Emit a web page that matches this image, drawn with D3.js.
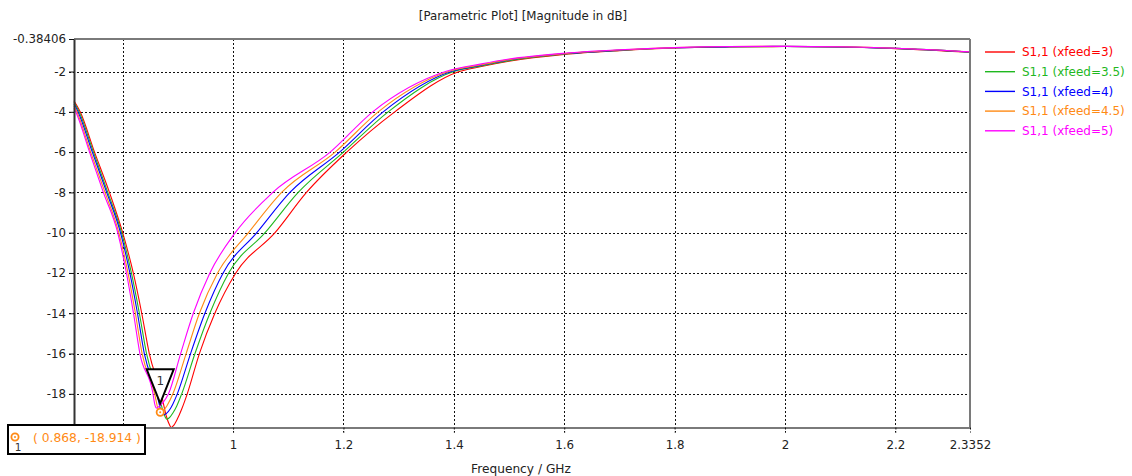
<!DOCTYPE html>
<html>
<head>
<meta charset="utf-8">
<script src="https://cdn.jsdelivr.net/npm/d3@7"></script>
<style>
  html, body { margin: 0; padding: 0; background: #ffffff; }
  svg { display: block; }
  text { font-family: "DejaVu Sans", Verdana, sans-serif; }
</style>
</head>
<body>
<svg id="chart" width="1132" height="476"></svg>
<script>
// S11 magnitude (dB) versus frequency (GHz) for a feed-position sweep
const seriesNames = ["S1,1 (xfeed=3)", "S1,1 (xfeed=3.5)", "S1,1 (xfeed=4)", "S1,1 (xfeed=4.5)", "S1,1 (xfeed=5)"];
const seriesColors = ["#ff0000", "#1fb81f", "#0000ff", "#ff8a14", "#ff00ff"];

// [frequency GHz, dB]
const xfeed3 = [[0.7118,-3.45],[0.723,-4.0],[0.749,-6.0],[0.776,-8.0],[0.800,-10.0],[0.8192,-12.0],[0.8345,-14.0],[0.8482,-16.0],[0.8700,-18.0],[0.879,-19.1],[0.885,-19.55],[0.888,-19.67],[0.892,-19.58],[0.899,-19.25],[0.907,-18.75],[0.917,-18.0],[0.939,-16.0],[0.967,-14.0],[1.005,-12.0],[1.076,-10.0],[1.133,-8.0],[1.206,-6.0],[1.293,-4.0],[1.410,-2.0],[1.45,-1.75],[1.5,-1.49],[1.6,-1.15],[1.7,-0.96],[1.8,-0.83],[1.9,-0.78],[2.0,-0.76],[2.1,-0.78],[2.2,-0.86],[2.3352,-1.04]];
const xfeed3p5 = [[0.7118,-3.52],[0.721,-4.0],[0.747,-6.0],[0.773,-8.0],[0.798,-10.0],[0.8158,-12.0],[0.8302,-14.0],[0.8432,-16.0],[0.8650,-18.0],[0.873,-18.85],[0.877,-19.15],[0.880,-19.26],[0.884,-19.2],[0.891,-18.95],[0.898,-18.6],[0.907,-18.0],[0.931,-16.0],[0.958,-14.0],[0.992,-12.0],[1.058,-10.0],[1.118,-8.0],[1.200,-6.0],[1.281,-4.0],[1.400,-2.0],[1.45,-1.72],[1.5,-1.46],[1.6,-1.13],[1.7,-0.95],[1.8,-0.82],[1.9,-0.77],[2.0,-0.76],[2.1,-0.78],[2.2,-0.85],[2.3352,-1.03]];
const xfeed4 = [[0.7118,-3.6],[0.719,-4.0],[0.745,-6.0],[0.771,-8.0],[0.796,-10.0],[0.8130,-12.0],[0.8268,-14.0],[0.8392,-16.0],[0.8620,-18.0],[0.869,-18.8],[0.874,-19.04],[0.879,-18.98],[0.886,-18.75],[0.891,-18.5],[0.899,-18.0],[0.923,-16.0],[0.949,-14.0],[0.982,-12.0],[1.043,-10.0],[1.103,-8.0],[1.193,-6.0],[1.272,-4.0],[1.395,-2.0],[1.45,-1.69],[1.5,-1.43],[1.6,-1.12],[1.7,-0.94],[1.8,-0.82],[1.9,-0.77],[2.0,-0.75],[2.1,-0.78],[2.2,-0.85],[2.3352,-1.03]];
const xfeed4p5 = [[0.7118,-3.7],[0.717,-4.0],[0.742,-6.0],[0.768,-8.0],[0.793,-10.0],[0.8096,-12.0],[0.8230,-14.0],[0.8352,-16.0],[0.8580,-18.0],[0.864,-18.75],[0.868,-18.914],[0.873,-18.85],[0.880,-18.6],[0.891,-18.0],[0.915,-16.0],[0.939,-14.0],[0.972,-12.0],[1.028,-10.0],[1.088,-8.0],[1.185,-6.0],[1.263,-4.0],[1.390,-2.0],[1.45,-1.66],[1.5,-1.41],[1.6,-1.11],[1.7,-0.93],[1.8,-0.81],[1.9,-0.76],[2.0,-0.75],[2.1,-0.77],[2.2,-0.84],[2.3352,-1.02]];
const xfeed5 = [[0.7118,-3.82],[0.715,-4.0],[0.740,-6.0],[0.765,-8.0],[0.791,-10.0],[0.8068,-12.0],[0.8196,-14.0],[0.8312,-16.0],[0.8550,-18.0],[0.858,-18.5],[0.861,-18.71],[0.866,-18.62],[0.874,-18.4],[0.883,-18.0],[0.905,-16.0],[0.928,-14.0],[0.958,-12.0],[1.004,-10.0],[1.072,-8.0],[1.176,-6.0],[1.253,-4.0],[1.385,-2.0],[1.45,-1.62],[1.5,-1.38],[1.6,-1.09],[1.7,-0.92],[1.8,-0.81],[1.9,-0.76],[2.0,-0.75],[2.1,-0.77],[2.2,-0.84],[2.3352,-1.02]];
const seriesData = [xfeed3, xfeed3p5, xfeed4, xfeed4p5, xfeed5];

const xDomain = [0.7118, 2.3352];
const yDomain = [-19.671, -0.38406];
// the two leftmost x ticks and the lowest y tick sit under the marker readout box
const xTicks = [0.7118, 0.8, 1, 1.2, 1.4, 1.6, 1.8, 2, 2.2, 2.3352];
const xTickLabels = ["", "", "1", "1.2", "1.4", "1.6", "1.8", "2", "2.2", "2.3352"];
const yTicks = [-0.38406, -2, -4, -6, -8, -10, -12, -14, -16, -18, -19.671];
const yTickLabels = ["-0.38406", "-2", "-4", "-6", "-8", "-10", "-12", "-14", "-16", "-18", ""];
const xGrid = [0.8, 1, 1.2, 1.4, 1.6, 1.8, 2, 2.2];
const yGrid = [-2, -4, -6, -8, -10, -12, -14, -16, -18];

// marker m1 on the xfeed=4.5 trace
const markerFreq = 0.868;
const markerDb = -18.914;
const markerLabel = "1";

const svg = d3.select("#chart");
const plotLeft = 74, plotRight = 970, plotTop = 39, plotBottom = 427.5;
const labelFont = "'DejaVu Sans', Verdana, sans-serif";

const x = d3.scaleLinear().domain(xDomain).range([plotLeft, plotRight]);
const y = d3.scaleLinear().domain(yDomain).range([plotBottom, plotTop]);

// title
svg.append("text")
  .attr("x", 523).attr("y", 20)
  .attr("text-anchor", "middle")
  .attr("font-size", 11.8)
  .attr("fill", "#222")
  .text("[Parametric Plot] [Magnitude in dB]");

// dashed grid, extended a few pixels outside the frame as ticks
const grid = svg.append("g").attr("stroke", "#111").attr("stroke-width", 1).attr("stroke-dasharray", "2,2");
grid.selectAll("line.gx").data(xGrid).join("line")
  .attr("x1", d => Math.round(x(d)) + 0.5).attr("x2", d => Math.round(x(d)) + 0.5)
  .attr("y1", plotTop).attr("y2", plotBottom + 5);
grid.selectAll("line.gy").data(yGrid).join("line")
  .attr("y1", d => Math.round(y(d)) + 0.5).attr("y2", d => Math.round(y(d)) + 0.5)
  .attr("x1", plotLeft - 5).attr("x2", plotRight);

// traces
const line = d3.line().x(d => x(d[0])).y(d => y(d[1])).curve(d3.curveMonotoneX);
svg.append("g").selectAll("path").data(seriesData).join("path")
  .attr("d", line)
  .attr("fill", "none")
  .attr("stroke", (d, i) => seriesColors[i])
  .attr("stroke-width", 1.1);

// frame
svg.append("line").attr("x1", plotLeft).attr("x2", plotRight).attr("y1", plotTop).attr("y2", plotTop).attr("stroke", "#7a7a7a").attr("stroke-width", 2);
svg.append("line").attr("x1", plotRight).attr("x2", plotRight).attr("y1", plotTop).attr("y2", plotBottom).attr("stroke", "#7a7a7a").attr("stroke-width", 2);

// axes
const xAxis = d3.axisBottom(x).tickValues(xTicks).tickFormat((d, i) => xTickLabels[i]).tickSize(5).tickSizeOuter(0);
const gx = svg.append("g").attr("transform", `translate(0,${plotBottom})`).call(xAxis);
gx.select(".domain").attr("stroke", "#7a7a7a").attr("stroke-width", 2);
gx.selectAll(".tick line").attr("stroke", "#111").attr("stroke-dasharray", "2,2");
gx.selectAll(".tick text").attr("font-size", 11.8).attr("fill", "#222").attr("y", 13.5)
  .attr("font-family", labelFont);

const yAxis = d3.axisLeft(y).tickValues(yTicks).tickFormat((d, i) => yTickLabels[i]).tickSize(5).tickSizeOuter(0);
const gy = svg.append("g").attr("transform", `translate(${plotLeft},0)`).call(yAxis);
gy.select(".domain").attr("stroke", "#333").attr("stroke-width", 2);
gy.selectAll(".tick line").attr("stroke", "#111");
gy.selectAll(".tick text").attr("font-size", 11.8).attr("fill", "#222").attr("x", -8)
  .attr("font-family", labelFont);

// x axis title
svg.append("text")
  .attr("x", 521).attr("y", 473)
  .attr("text-anchor", "middle")
  .attr("font-size", 12.2)
  .attr("fill", "#222")
  .text("Frequency / GHz");

// legend
const legend = svg.append("g");
seriesNames.forEach((name, i) => {
  const ly = 52 + i * 19.7;
  legend.append("line").attr("x1", 985).attr("x2", 1015).attr("y1", ly).attr("y2", ly)
    .attr("stroke", seriesColors[i]).attr("stroke-width", 1.4);
  legend.append("text").attr("x", 1022).attr("y", ly).attr("dy", "0.35em")
    .attr("font-size", 12).attr("fill", seriesColors[i]).text(name);
});

// marker triangle pointing at the marked point
const mx = x(markerFreq), my = y(markerDb);
const tipY = my - 9;
svg.append("path")
  .attr("d", `M${mx - 13.5},${tipY - 34} L${mx + 13.5},${tipY - 34} L${mx},${tipY} Z`)
  .attr("fill", "#fff").attr("stroke", "#000").attr("stroke-width", 2).attr("stroke-linejoin", "miter");
svg.append("text").attr("x", mx).attr("y", tipY - 18).attr("text-anchor", "middle")
  .attr("font-size", 12).attr("fill", "#333").text(markerLabel);

// marked point
svg.append("circle").attr("cx", mx).attr("cy", my).attr("r", 3.6)
  .attr("fill", "#fff").attr("stroke", "#ff8a14").attr("stroke-width", 1.8);
svg.append("circle").attr("cx", mx).attr("cy", my).attr("r", 1).attr("fill", "#ff8a14");

// marker readout box
const box = svg.append("g");
box.append("rect").attr("x", 8).attr("y", 425).attr("width", 137).attr("height", 29)
  .attr("fill", "#fff").attr("stroke", "#000").attr("stroke-width", 2);
box.append("circle").attr("cx", 15).attr("cy", 437).attr("r", 3.6)
  .attr("fill", "#fff").attr("stroke", "#ff8a14").attr("stroke-width", 1.8);
box.append("circle").attr("cx", 15).attr("cy", 437).attr("r", 1).attr("fill", "#ff8a14");
box.append("text").attr("x", 18).attr("y", 451).attr("text-anchor", "middle")
  .attr("font-size", 10.5).attr("fill", "#333").text(markerLabel);
box.append("text").attr("x", 33).attr("y", 438).attr("dy", "0.35em")
  .attr("font-size", 12.3).attr("fill", "#ff8a14")
  .text(`( ${markerFreq.toFixed(3)}, ${markerDb.toFixed(3)} )`);
</script>
</body>
</html>
